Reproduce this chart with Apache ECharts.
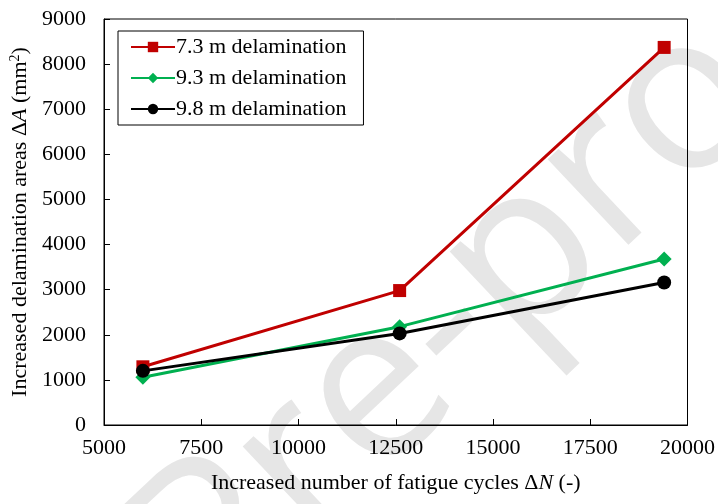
<!DOCTYPE html>
<html><head><meta charset="utf-8">
<script src="https://cdn.jsdelivr.net/npm/echarts@6/dist/echarts.min.js"></script>
<style>html,body{margin:0;padding:0;background:#fff}#c{width:718px;height:504px}</style>
</head><body><div id="c"></div>
<script>
const cycles = [6000, 12600, 19400];
const seriesNames = ['7.3 m delamination', '9.3 m delamination', '9.8 m delamination'];
const d73 = [1290, 2980, 8370];
const d93 = [1060, 2180, 3680];
const d98 = [1200, 2030, 3160];
const xTicks = [5000, 7500, 10000, 12500, 15000, 17500, 20000];
const yTicks = [0, 1000, 2000, 3000, 4000, 5000, 6000, 7000, 8000, 9000];

const font = 'Liberation Serif, Times New Roman, serif';
const chart = echarts.init(document.getElementById('c'));
function pts(v){ return cycles.map((x,i)=>[x,v[i]]); }
const colors = ['#C00000', '#00B050', '#000000'];
const symbols = ['rect', 'diamond', 'circle'];
const sizes = [13, 15, 14];
const data = [d73, d93, d98];
const FS = 22;
chart.setOption({
  animation: false,
  textStyle: {fontFamily: font},
  grid: {left: 104, right: 30, top: 19, bottom: 79, show: true, borderColor: '#000', borderWidth: 1},
  graphic: [{
    type: 'text', z: -10, zlevel: 0,
    x: 95, y: 510, rotation: Math.PI / 4 - 0.03,
    style: {text: 'Pre-proof', font: '500 220px "Open Sans", sans-serif', fill: '#e6e6e6'}
  }],
  legend: {
    left: 118, top: 31, orient: 'vertical',
    padding: [5, 17, 5, 12], itemGap: 9,
    itemWidth: 44, itemHeight: 13,
    borderColor: '#000', borderWidth: 1, backgroundColor: '#fff',
    textStyle: {fontFamily: font, fontSize: FS, color: '#000', padding: [0,0,0,-4]},
    data: seriesNames
  },
  xAxis: {
    type: 'value', min: 5000, max: 20000, interval: 2500,
    name: '{t|Increased number of fatigue cycles Δ}{i|N}{t| (-)}',
    nameLocation: 'middle', nameGap: 47,
    nameTextStyle: {rich: {t: {fontFamily: font, fontSize: FS, color: '#000'}, i: {fontFamily: font, fontSize: FS, fontStyle: 'italic', color: '#000'}}},
    axisLine: {lineStyle: {color: '#000', width: 1}},
    axisTick: {inside: true, length: 6, lineStyle: {color: '#000'}},
    axisLabel: {fontFamily: font, fontSize: FS, color: '#000', margin: 12, formatter: v => String(v)},
    splitLine: {show: false}
  },
  yAxis: {
    type: 'value', min: 0, max: 9000, interval: 1000,
    name: '{t|Increased delamination areas Δ}{i|A}{t| (mm}{s|2}{t|)}',
    nameLocation: 'middle', nameGap: 63, nameRotate: 90,
    nameTextStyle: {rich: {t: {fontFamily: font, fontSize: FS, color: '#000'}, i: {fontFamily: font, fontSize: FS, fontStyle: 'italic', color: '#000'}, s: {fontFamily: font, fontSize: 14, color: '#000', verticalAlign: 'top', padding: [0,0,10,0]}}},
    axisLine: {show: true, lineStyle: {color: '#000', width: 1}},
    axisTick: {show: true, inside: true, length: 6, lineStyle: {color: '#000'}},
    axisLabel: {fontFamily: font, fontSize: FS, color: '#000', margin: 18, formatter: v => String(v)},
    splitLine: {show: false}
  },
  series: seriesNames.map((n, i) => ({
    name: n, type: 'line', data: pts(data[i]),
    symbol: symbols[i], symbolSize: sizes[i], showAllSymbol: true,
    lineStyle: {color: colors[i], width: 3},
    itemStyle: {color: colors[i]},
    z: 10 + (i === 2 ? 1 : 0)
  }))
});
</script></body></html>
